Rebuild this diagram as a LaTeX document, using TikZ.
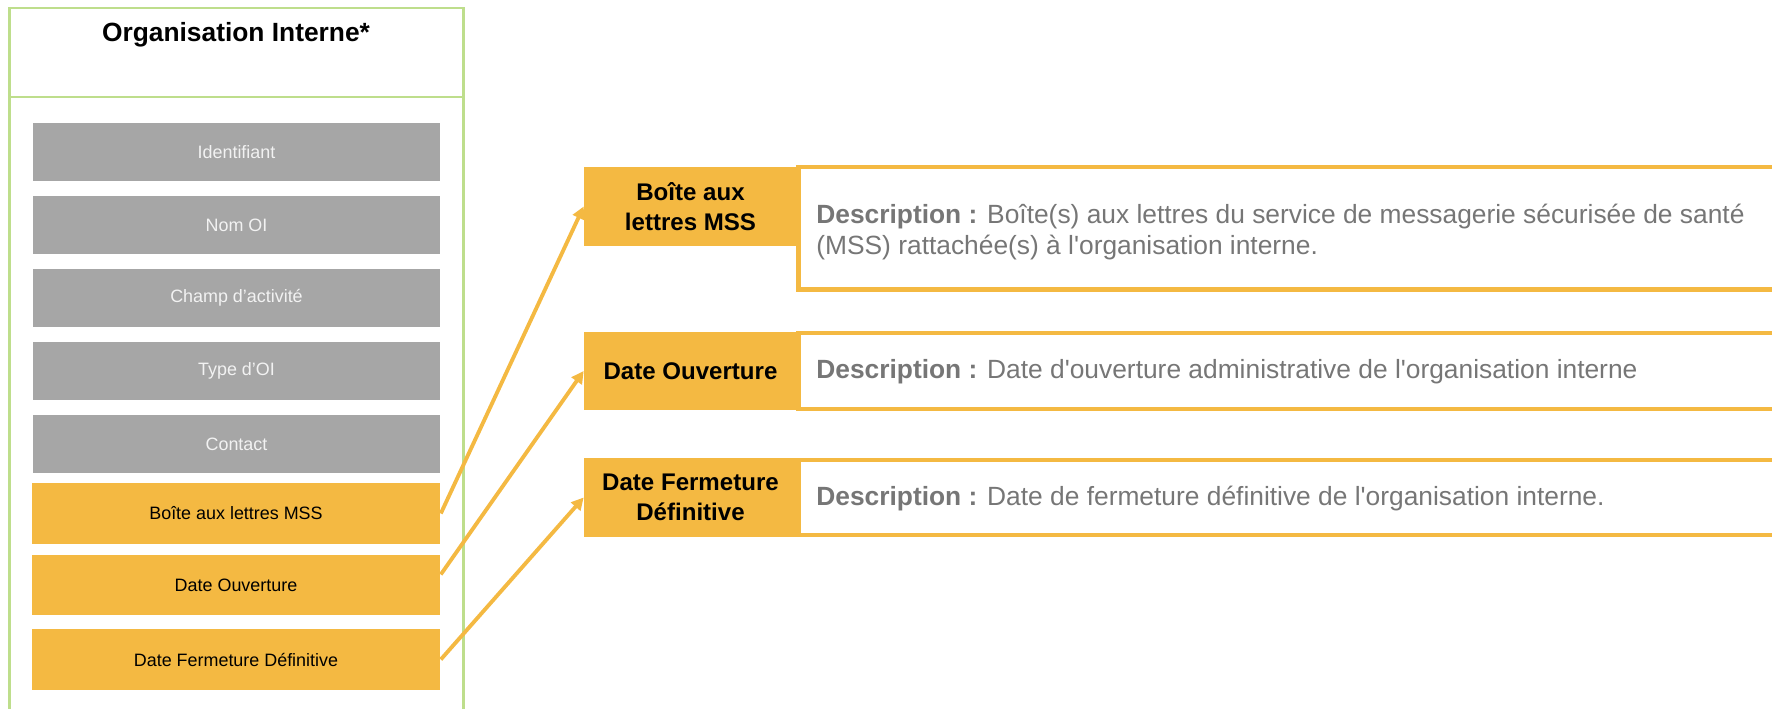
\documentclass[tikz,border=0pt]{standalone}
\usepackage{fontspec}
\setmainfont{Liberation Sans}[Ligatures=TeXOff]
\usetikzlibrary{arrows.meta,positioning}

\begin{document}
\begin{tikzpicture}[x=0.02cm,y=-0.02cm,
    attr/.style={fill=attrgray, text=attrtext, minimum width=8.14cm, minimum height=1.18cm, inner sep=0pt, font=\fontsize{10.2}{12}\selectfont},
    sel/.style={fill=selorange, text=black, minimum width=8.18cm, minimum height=1.22cm, inner sep=0pt, font=\fontsize{10.2}{12}\selectfont},
    tag/.style={fill=selorange, text=black, minimum width=4.26cm, minimum height=1.57cm, inner sep=0pt, align=center, font=\bfseries\fontsize{13.7}{17}\selectfont},
    desc/.style={anchor=west, text=desctext, align=left, inner sep=0pt, font=\fontsize{15}{17.8}\selectfont},
    frame/.style={draw=selorange, line width=2.3pt},
    link/.style={draw=selorange, line width=2.2pt, -{Triangle[length=7pt,width=7pt]}}]
    % Define colors
    \definecolor{selorange}{RGB}{244,185,66} % orange
    \definecolor{attrgray}{RGB}{166,166,166} % grey boxes
    \definecolor{attrtext}{RGB}{242,242,242}
    \definecolor{framegreen}{RGB}{190,222,140} % light green
    \definecolor{desctext}{RGB}{118,118,118}
    \useasboundingbox (0,0) rectangle (1772,709);

    % Left frame
    \draw[framegreen, line width=1.2pt] (9.5,709) -- (9.5,8) -- (463.5,8) -- (463.5,709);
    \draw[framegreen, line width=1.2pt] (9.5,97) -- (463.5,97);
    \node[font=\bfseries\fontsize{15}{18}\selectfont] (oi) at (236,35) {Organisation Interne*};

    % Attributes
    \foreach \name/\txt [count=\i] in {id/Identifiant, nom/Nom OI, champ/Champ d’activité, type/Type d’OI, contact/Contact}
        \node[attr] (\name) at (236.5,79+\i*73) {\txt};
    \node[sel] (mss) at (236,513.5) {Boîte aux lettres MSS};
    \node[sel] (ouv) at (236,585) {Date Ouverture};
    \node[sel] (ferm) at (236,659.5) {Date Fermeture Définitive};

    % Description frames
    \draw[frame] (1772,167) -| (798.5,289.5) -- (1772,289.5);
    \draw[frame] (1772,333) -| (798.5,408.7) -- (1772,408.7);
    \draw[frame] (1772,459.7) -| (798.5,535) -- (1772,535);

    % Labels
    \node[tag] (msslbl) at (690.5,206.5) {Boîte aux\\lettres MSS};
    \node[tag] (ouvlbl) at (690.5,371) {Date Ouverture};
    \node[tag] (fermlbl) at (690.5,497.5) {Date Fermeture\\Définitive};

    % Descriptions
    \node[desc] (mssdesc) at (816,232) {\textbf{Description :} Boîte(s) aux lettres du service de messagerie sécurisée de santé\\(MSS) rattachée(s) à l'organisation interne.};
    \node[desc] (ouvdesc) at (816,372) {\textbf{Description :} Date d'ouverture administrative de l'organisation interne};
    \node[desc] (fermdesc) at (816,499) {\textbf{Description :} Date de fermeture définitive de l'organisation interne.};

    % Arrows
    \draw[link] (mss.east) -- (msslbl.west);
    \draw[link] ([yshift=6pt]ouv.east) -- (ouvlbl.west);
    \draw[link] (ferm.east) -- (fermlbl.west);
\end{tikzpicture}
\end{document}
